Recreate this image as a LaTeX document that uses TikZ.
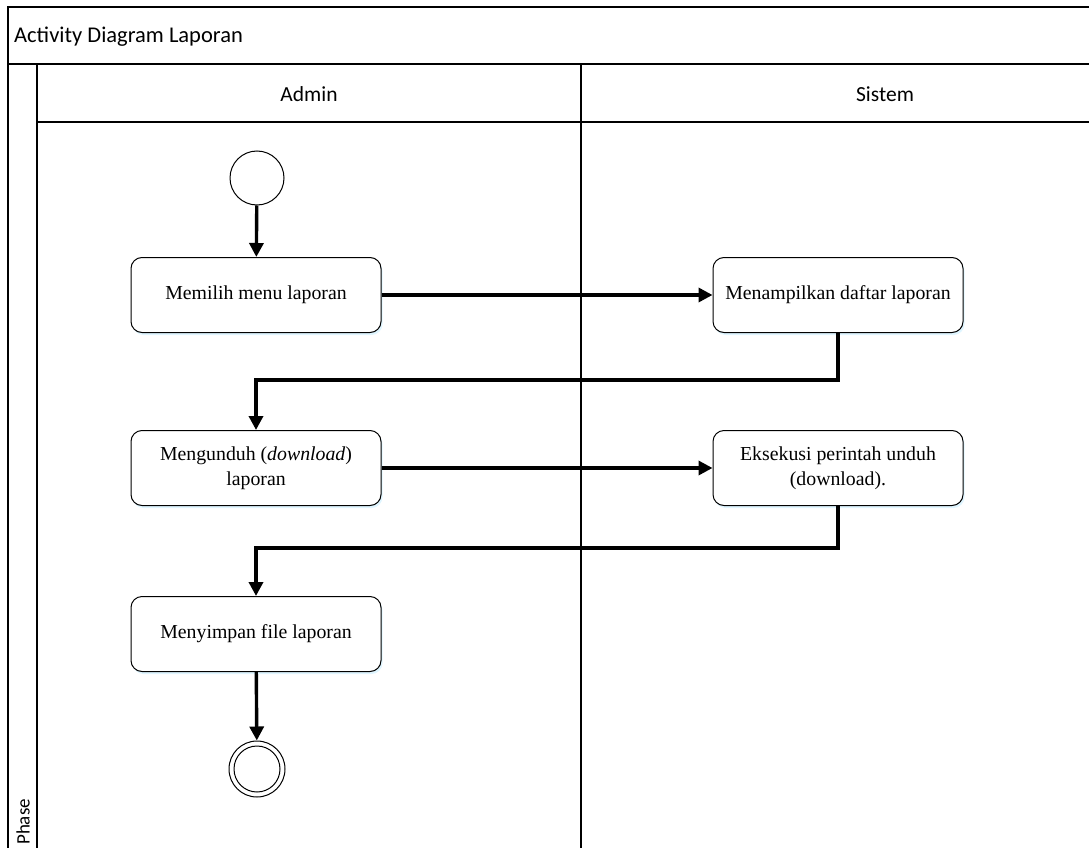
\documentclass[tikz,border=0pt]{standalone}
\usepackage{fontspec}
\setmainfont{Liberation Serif}
\newfontfamily\hdfont{Carlito}
\usetikzlibrary{arrows.meta,shadows}
\begin{document}
\begin{tikzpicture}[x=1pt,y=-1pt,
  frame/.style={draw=black,line width=1.6pt},
  act/.style={draw=black,line width=1pt,rounded corners=11pt,fill=white,
    minimum width=250pt,minimum height=75pt,align=center,
    font=\fontsize{19.8}{25.5}\selectfont,
    drop shadow={shadow xshift=1.5pt,shadow yshift=-2.5pt,fill=blue!30!cyan!25,opacity=0.5}},
  flow/.style={line width=3.4pt,-{Triangle[length=14pt,width=14pt]}},
  hdr/.style={font=\hdfont\fontsize{21.5}{25}\selectfont}]
\useasboundingbox (0,0) rectangle (1089,848);
% pool frame, title row, phase column and lane headers
\draw[frame] (8,848) -- (8,7) -- (1089,7);
\draw[frame] (8,64) -- (1089,64);
\draw[frame] (37,64) -- (37,848);
\draw[frame] (581,64) -- (581,848);
\draw[frame] (37,122) -- (1089,122);
\node[hdr,font=\hdfont\fontsize{22.5}{26}\selectfont,anchor=west,inner sep=0pt] (title) at (14,37) {Activity Diagram Laporan};
\node[hdr] (admin) at (309,94) {Admin};
\node[hdr] (sistem) at (885,94) {Sistem};
\node[hdr,font=\hdfont\fontsize{19}{22}\selectfont,rotate=90,anchor=west,inner sep=0pt] (phase) at (23,845) {Phase};
% activity nodes
\node[draw=black,line width=1pt,circle,minimum size=54pt,fill=white] (start) at (257,178) {};
\node[act] (a1) at (256,295) {Memilih menu laporan};
\node[act] (s1) at (838,295) {Menampilkan daftar laporan};
\node[act] (a2) at (256,468) {Mengunduh (\textit{download})\\laporan};
\node[act] (s2) at (838,468) {Eksekusi perintah unduh\\(download).};
\node[act] (a3) at (256,634) {Menyimpan file laporan};
\node[draw=black,line width=1pt,circle,minimum size=56pt,fill=white] (end) at (257,769) {};
\node[draw=black,line width=1pt,circle,minimum size=46pt] (endin) at (257,769) {};
% control flow
\draw[flow] (start) -- (a1);
\draw[flow] (a1) -- (s1);
\draw[flow] (s1.south) -- ++(0,47) -| (a2.north);
\draw[flow] (a2) -- (s2);
\draw[flow] (s2.south) -- ++(0,42) -| (a3.north);
\draw[flow] (a3) -- (end);
\end{tikzpicture}
\end{document}
